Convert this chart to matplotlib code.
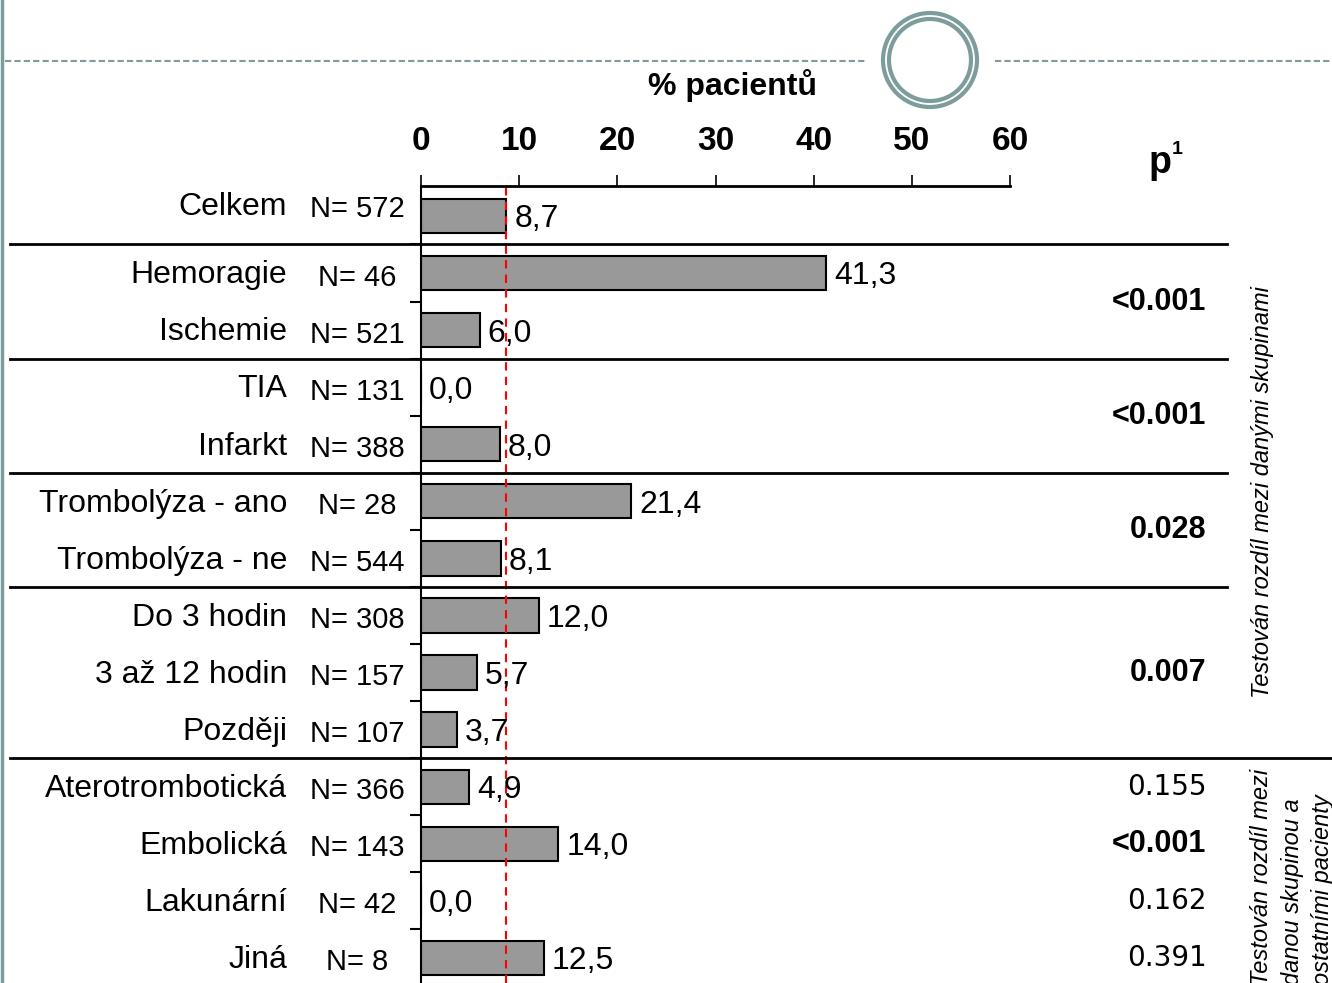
import matplotlib.pyplot as plt
import matplotlib.transforms as mtransforms
from matplotlib.patches import Ellipse
from matplotlib.lines import Line2D

categories = ['Celkem', 'Hemoragie', 'Ischemie', 'TIA', 'Infarkt',
              'Trombolýza - ano', 'Trombolýza - ne', 'Do 3 hodin',
              '3 až 12 hodin', 'Později', 'Aterotrombotická', 'Embolická',
              'Lakunární', 'Jiná']
n_counts = [572, 46, 521, 131, 388, 28, 544, 308, 157, 107, 366, 143, 42, 8]
percent = [8.7, 41.3, 6.0, 0.0, 8.0, 21.4, 8.1, 12.0, 5.7, 3.7, 4.9, 14.0, 0.0, 12.5]

# p-values: (row position, text, bold)
p_rows = [1.5, 3.5, 5.5, 8, 10, 11, 12, 13]
p_texts = ['<0.001', '<0.001', '0.028', '0.007', '0.155', '<0.001', '0.162', '0.391']
p_bold = [True, True, True, True, False, True, False, False]

group_breaks = [0.5, 2.5, 4.5, 6.5, 9.5]
x_ticks = [0, 10, 20, 30, 40, 50, 60]
overall = percent[0]

W, H = 1332, 983
narrow = ['Liberation Sans Narrow', 'Liberation Sans', 'DejaVu Sans']
teal = '#7d9c9c'

fig = plt.figure(figsize=(W / 100, H / 100), dpi=100)


def fx(px):
    return px / W


def fy(py):
    return 1 - py / H


ax = fig.add_axes([fx(421), 0, fx(1010) - fx(421), fy(186)])
rows = list(range(len(categories)))
ax.barh(rows, percent, height=0.6, color='#999999', edgecolor='black', linewidth=1.5)
ax.set_xlim(0, 60)
ax.set_ylim(13.44, -0.525)

ax.spines['right'].set_visible(False)
ax.spines['bottom'].set_visible(False)
ax.spines['left'].set_linewidth(1.5)
ax.spines['top'].set_linewidth(2)

ax.xaxis.tick_top()
ax.set_xticks(x_ticks)
ax.set_xticklabels([str(t) for t in x_ticks], fontfamily=narrow,
                   fontweight='bold', fontsize=24)
ax.tick_params(axis='x', direction='out', length=8, width=1.2, pad=13)
ax.set_yticks([])
ax.set_yticks([r + 0.5 for r in rows[:-1]], minor=True)
ax.tick_params(axis='y', which='minor', direction='out', length=8, width=1.5)

ax.axvline(overall, color='red', linestyle=(0, (4, 3)), linewidth=1.5)

for r, v in enumerate(percent):
    ax.text(v + 0.8, r + 0.06, f'{v:.1f}'.replace('.', ','), va='center', ha='left',
            fontsize=23, fontfamily=narrow)

lab = mtransforms.blended_transform_factory(fig.transFigure, ax.transData)
for r, (c, n) in enumerate(zip(categories, n_counts)):
    dy = -0.16 if r == 0 else 0.04
    ax.text(fx(287), r + dy, c, transform=lab, ha='right', va='center',
            fontsize=23, fontfamily=narrow)
    ax.text(fx(357), r + dy + 0.04, f'N= {n}', transform=lab, ha='center',
            va='center', fontsize=21, fontfamily=narrow)

for b in group_breaks:
    x_end = 1332 if b == 9.5 else 1227
    fig.add_artist(Line2D([fx(10), fx(x_end)], [b, b], transform=lab,
                          color='black', linewidth=2))

for r, t, b in zip(p_rows, p_texts, p_bold):
    if b:
        ax.text(fx(1206), r, t, transform=lab, ha='right', va='center', fontsize=22,
                fontfamily='Liberation Sans', fontweight='bold')
    else:
        ax.text(fx(1207), r, t, transform=lab, ha='right', va='center', fontsize=20,
                fontfamily='DejaVu Sans')

fig.text(fx(1160), fy(163), 'p', ha='center', va='center', fontsize=27,
         fontweight='bold', fontfamily='Liberation Sans')
fig.text(fx(1177), fy(150), '1', ha='center', va='center', fontsize=14,
         fontweight='bold', fontfamily='Liberation Sans')

fig.text(fx(733), fy(86), '% pacientů', ha='center', va='center', fontsize=23,
         fontweight='bold', fontfamily=narrow)

fig.text(fx(1262), fy(492), 'Testován rozdíl mezi danými skupinami', rotation=90,
         ha='center', va='center', fontsize=17, style='italic', fontfamily=narrow)
for px, line in zip([1262, 1293, 1322],
                    ['Testován rozdíl mezi', 'danou skupinou a', 'ostatními pacienty']):
    fig.text(fx(px), fy(985), line, rotation=90, ha='center', va='bottom',
             fontsize=17, style='italic', fontfamily=narrow)

# decorative header: dashed rule, rings, left border
fig.add_artist(Line2D([fx(5), fx(866)], [fy(61), fy(61)], color=teal,
                      linewidth=1.5, linestyle=(0, (3, 1.5))))
fig.add_artist(Line2D([fx(995), fx(1332)], [fy(61), fy(61)], color=teal,
                      linewidth=1.5, linestyle=(0, (3, 1.5))))
for rad in (47, 41):
    fig.add_artist(Ellipse((fx(930), fy(60)), 2 * rad / W, 2 * rad / H,
                           transform=fig.transFigure, fill=False,
                           edgecolor=teal, linewidth=3))
fig.add_artist(Line2D([fx(2), fx(2)], [0, 1], color=teal, linewidth=2.5))

fig.savefig('out.png', dpi=100)
